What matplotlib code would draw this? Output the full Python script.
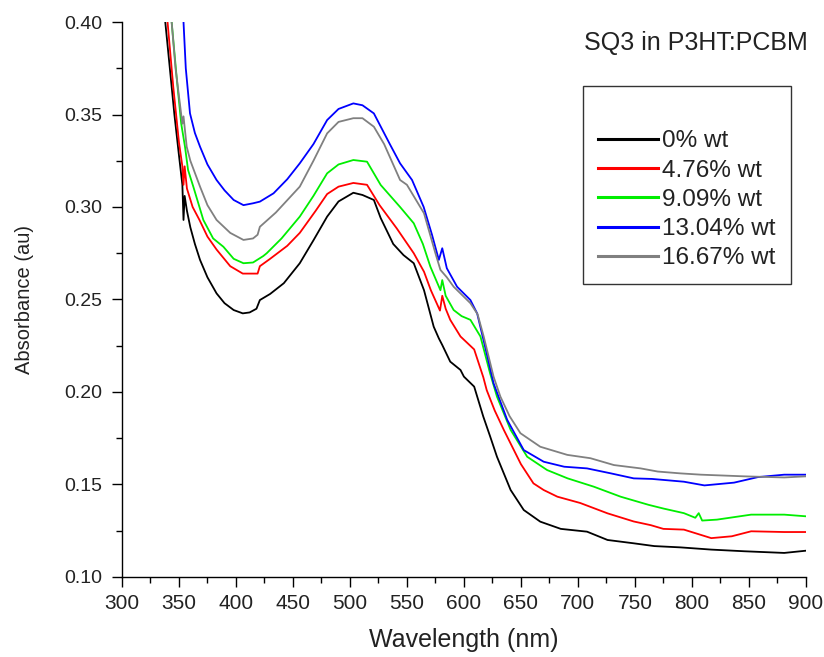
import matplotlib.pyplot as plt
from matplotlib.ticker import MultipleLocator, FormatStrFormatter

plt.rcParams.update({
    "font.family": ["Liberation Sans", "DejaVu Sans"],
    "font.size": 14,
})

# --------------------------------------------------
# Data
# --------------------------------------------------
wl_0 = [338, 342, 346, 350, 353, 354, 355, 357, 360, 364, 368.5, 375, 383, 390, 398,
        406, 412, 418, 421, 430, 442, 456, 468, 480, 490, 503, 511, 521, 527, 538,
        547, 556, 565, 573.5, 578, 581, 588, 597, 600, 609, 617, 623, 629, 641,
        652.5, 667, 685, 708, 726, 749, 767, 790, 817, 846, 881, 900]
abs_0 = [0.400, 0.375, 0.350, 0.328, 0.312, 0.293, 0.306, 0.298, 0.289, 0.280, 0.2714,
         0.262, 0.2533, 0.248, 0.2443, 0.2425, 0.243, 0.245, 0.2497, 0.253, 0.2588,
         0.2696, 0.282, 0.2948, 0.303, 0.3077, 0.3065, 0.3038, 0.294, 0.280, 0.274,
         0.2696, 0.255, 0.2353, 0.229, 0.2254, 0.2164, 0.2119, 0.2083, 0.2029, 0.1867,
         0.176, 0.165, 0.147, 0.1362, 0.1299, 0.126, 0.1245, 0.120, 0.1182, 0.1167,
         0.116, 0.1148, 0.1139, 0.113, 0.1142]

wl_476 = [340, 345, 350, 353, 354, 355, 357, 362, 368, 375, 383, 395, 406, 415, 419,
          421, 430, 445, 456, 470, 480, 490, 503, 515, 526, 541, 556, 565, 571, 579,
          581, 584, 588, 597, 609, 617, 620, 627, 635, 650, 661, 670, 682, 702, 726,
          749, 764, 775, 793, 817, 835, 852, 881, 900]
abs_476 = [0.400, 0.365, 0.335, 0.322, 0.312, 0.322, 0.310, 0.300, 0.293, 0.284, 0.277,
           0.268, 0.264, 0.264, 0.264, 0.268, 0.272, 0.279, 0.286, 0.298, 0.307, 0.311,
           0.313, 0.312, 0.301, 0.2885, 0.275, 0.265, 0.255, 0.244, 0.252, 0.245,
           0.239, 0.230, 0.223, 0.208, 0.201, 0.190, 0.1795, 0.161, 0.1506, 0.147,
           0.1434, 0.140, 0.1344, 0.130, 0.128, 0.126, 0.1256, 0.121, 0.122, 0.1247,
           0.1243, 0.1243]

wl_909 = [343.6, 348, 352, 355.3, 358, 362.6, 371.4, 380, 389, 398, 406.6, 415, 424,
          427, 440, 456, 468, 480, 490, 503, 515, 527, 544, 556, 564, 570.6, 579.4,
          581, 584, 591, 598, 605.7, 614.5, 623, 629, 641, 655.5, 673, 691, 714,
          737.5, 762, 775, 793, 803, 806, 809, 822, 852, 881, 900]
abs_909 = [0.400, 0.370, 0.345, 0.3326, 0.320, 0.311, 0.293, 0.283, 0.2785, 0.272,
           0.2696, 0.270, 0.2735, 0.275, 0.283, 0.2948, 0.306, 0.3182, 0.323, 0.3254,
           0.3245, 0.3119, 0.300, 0.2912, 0.280, 0.2677, 0.255, 0.2605, 0.252,
           0.2443, 0.241, 0.239, 0.230, 0.210, 0.1975, 0.1795, 0.165, 0.1578, 0.1533,
           0.1488, 0.1434, 0.139, 0.137, 0.1345, 0.132, 0.1345, 0.1305, 0.131,
           0.1337, 0.1337, 0.1328]

wl_1304 = [354, 356, 359.7, 364, 368.5, 375, 383, 390, 398, 406.6, 415, 421, 433, 445,
           456, 468, 480, 490, 503, 511, 521, 535, 544, 554.5, 564.7, 572, 578, 581,
           585, 594, 605.7, 611.6, 618, 626, 638, 652.5, 670, 688, 708, 729, 749,
           765, 793, 811, 837, 858, 881, 900]
abs_1304 = [0.400, 0.375, 0.3506, 0.340, 0.3326, 0.323, 0.3146, 0.309, 0.3038, 0.301,
            0.302, 0.3029, 0.3074, 0.315, 0.3236, 0.334, 0.347, 0.353, 0.356, 0.355,
            0.3506, 0.334, 0.3236, 0.3146, 0.300, 0.285, 0.2714, 0.2777, 0.2669,
            0.2569, 0.2497, 0.2425, 0.226, 0.2047, 0.1849, 0.1686, 0.1623, 0.1596,
            0.1587, 0.156, 0.1533, 0.153, 0.1515, 0.1495, 0.151, 0.154, 0.1553, 0.1553]

wl_1667 = [343.6, 347, 351, 353, 354, 356.8, 360, 368.5, 375, 383, 395, 406.6, 415,
           419, 421, 435, 456, 468, 480, 490, 503, 511, 521, 530, 544, 550, 565, 575,
           579.4, 585, 591, 605.7, 612, 617.4, 626, 632, 640, 649.6, 667, 690.7, 711,
           731.6, 755, 770, 790, 808, 846, 881, 900]
abs_1667 = [0.400, 0.375, 0.355, 0.345, 0.349, 0.3326, 0.325, 0.311, 0.301, 0.293,
            0.286, 0.2822, 0.283, 0.285, 0.2893, 0.297, 0.311, 0.325, 0.3398, 0.346,
            0.348, 0.348, 0.3434, 0.334, 0.3146, 0.312, 0.2966, 0.275, 0.266, 0.262,
            0.2569, 0.248, 0.242, 0.2299, 0.2083, 0.1975, 0.187, 0.1777, 0.1704,
            0.166, 0.1642, 0.1605, 0.1587, 0.157, 0.156, 0.1553, 0.1544, 0.1538, 0.1544]

labels = ["0% wt", "4.76% wt", "9.09% wt", "13.04% wt", "16.67% wt"]
colors = ["#000000", "#ff0000", "#00ee00", "#0000ff", "#808080"]

series = [(wl_0, abs_0), (wl_476, abs_476), (wl_909, abs_909),
          (wl_1304, abs_1304), (wl_1667, abs_1667)]

# --------------------------------------------------
# Figure
# --------------------------------------------------
fig = plt.figure(figsize=(8.24, 6.57), dpi=100)
ax = fig.add_axes([0.148, 0.1218, 0.830, 0.8447])

for (x, y), lab, c in zip(series, labels, colors):
    ax.plot(x, y, color=c, linewidth=1.3, label=lab)

ax.set_xlim(300, 900)
ax.set_ylim(0.10, 0.40)

ax.xaxis.set_major_locator(MultipleLocator(50))
ax.xaxis.set_minor_locator(MultipleLocator(25))
ax.yaxis.set_major_locator(MultipleLocator(0.05))
ax.yaxis.set_minor_locator(MultipleLocator(0.025))
ax.yaxis.set_major_formatter(FormatStrFormatter("%.2f"))

ax.tick_params(which="major", direction="out", length=7, width=1,
               colors="black", labelcolor="#222222")
ax.tick_params(which="minor", direction="out", length=4, width=1)
ax.tick_params(axis="x", which="major", labelsize=15, pad=5)
ax.tick_params(axis="y", which="major", labelsize=14, pad=7)

for spine in ["left", "bottom"]:
    ax.spines[spine].set_linewidth(1.0)
ax.spines["top"].set_visible(False)
ax.spines["right"].set_visible(False)

ax.set_xlabel("Wavelength (nm)", fontsize=18, labelpad=11, color="#222222")
ax.set_ylabel("Absorbance (au)", fontsize=14.5, labelpad=22, color="#222222")

ax.text(1.003, 0.962, "SQ3 in P3HT:PCBM", transform=ax.transAxes,
        ha="right", va="center", fontsize=18, color="#222222")

leg = ax.legend(loc="upper left", bbox_to_anchor=(0.674, 0.885),
                title=" ", title_fontsize=17.5, fontsize=17.5,
                frameon=True, fancybox=False, edgecolor="black",
                handlelength=2.45, handletextpad=0.2, labelspacing=0.3,
                borderpad=0.62, borderaxespad=0)
leg.get_frame().set_linewidth(1.0)
for t in leg.get_texts():
    t.set_color("#222222")
for line in leg.get_lines():
    line.set_linewidth(2.2)

fig.savefig("out.png", dpi=100)
